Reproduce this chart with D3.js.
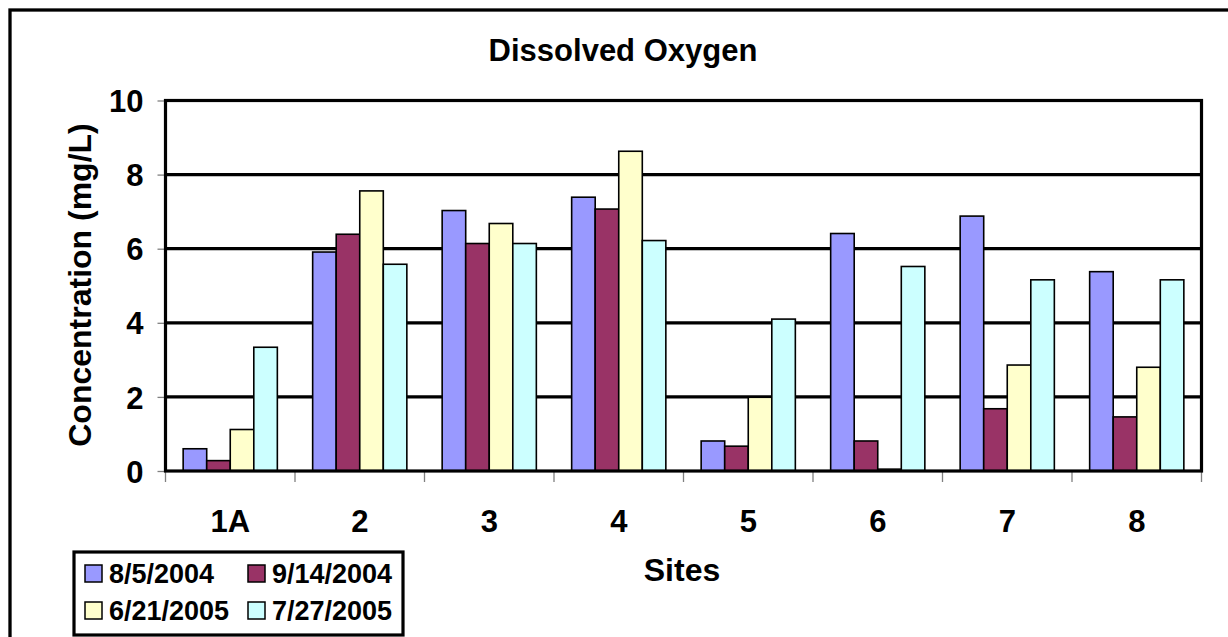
<!DOCTYPE html>
<html>
<head>
<meta charset="utf-8">
<script src="https://cdn.jsdelivr.net/npm/d3@7"></script>
<style>
  body { margin: 0; background: #fff; }
  svg text { font-family: "Liberation Sans", Arial, sans-serif; font-weight: bold; fill: #000; }
</style>
</head>
<body>
<svg class="chart" width="1228" height="637"></svg>
<script>
// Data (mg/L)
var sites = ["1A", "2", "3", "4", "5", "6", "7", "8"];
var dates = ["8/5/2004", "9/14/2004", "6/21/2005", "7/27/2005"];
var doAug2004 = [0.60, 5.91, 7.03, 7.39, 0.81, 6.41, 6.88, 5.38];
var doSep2004 = [0.28, 6.39, 6.14, 7.07, 0.67, 0.81, 1.68, 1.46];
var doJun2005 = [1.12, 7.56, 6.68, 8.63, 1.99, 0.05, 2.86, 2.80];
var doJul2005 = [3.34, 5.58, 6.14, 6.22, 4.10, 5.52, 5.16, 5.16];
var yTicks = [0, 2, 4, 6, 8, 10];

var series = [doAug2004, doSep2004, doJun2005, doJul2005];
var colors = ["#9999ff", "#993366", "#ffffcc", "#ccffff"];

// Plot area
var plot = {left: 165.5, top: 100.5, right: 1201.5, bottom: 471};

var chart = d3.select(".chart");

// outer chart border (runs off the page right and bottom)
chart.append("rect")
	.attr("x", 10).attr("y", 10)
	.attr("width", 1240).attr("height", 660)
	.style("fill", "none")
	.style("stroke", "#000")
	.style("stroke-width", 3.3);

var x0 = d3.scaleBand()
	.domain(sites)
	.range([plot.left, plot.right]);

var bw = x0.bandwidth();
// Excel gap width 150%: 4 bars + 1.5 bar widths of gap per category
var x1 = d3.scaleBand()
	.domain(d3.range(dates.length))
	.range([bw * 0.75 / 5.5, bw * 4.75 / 5.5]);

var y = d3.scaleLinear()
	.domain([0, 10])
	.range([plot.bottom, plot.top]);

// gridlines
chart.append("g")
	.selectAll("line")
	.data(yTicks.slice(1, -1))
	.enter().append("line")
	.attr("x1", plot.left).attr("x2", plot.right)
	.attr("y1", function(d) { return y(d); })
	.attr("y2", function(d) { return y(d); })
	.style("stroke", "#000")
	.style("stroke-width", 3.2);

// bars
var groups = chart.append("g")
	.selectAll("g")
	.data(sites)
	.enter().append("g")
	.attr("transform", function(d) { return "translate(" + x0(d) + ",0)"; });

groups.selectAll("rect")
	.data(function(d, i) { return series.map(function(s, j) { return {k: j, v: s[i]}; }); })
	.enter().append("rect")
	.attr("x", function(d) { return x1(d.k); })
	.attr("width", x1.bandwidth())
	.attr("y", function(d) { return y(d.v); })
	.attr("height", function(d) { return y(0) - y(d.v); })
	.style("fill", function(d) { return colors[d.k]; })
	.style("stroke", "#000")
	.style("stroke-width", 1.6);

// y axis ticks and labels
var yAxis = d3.axisLeft(y)
	.tickValues(yTicks)
	.tickSize(8)
	.tickPadding(14);

var gy = chart.append("g")
	.attr("transform", "translate(" + plot.left + ",0)")
	.call(yAxis);
gy.select(".domain").remove();
gy.selectAll(".tick line").style("stroke", "#808080").style("stroke-width", 1.3);
gy.selectAll(".tick text").style("font-size", "31px").attr("dy", "0.36em");

// x axis: ticks between categories
var gx = chart.append("g");
gx.selectAll("line")
	.data(sites.concat(["end"]))
	.enter().append("line")
	.attr("x1", function(d, i) { return i < sites.length ? x0(d) : plot.right; })
	.attr("x2", function(d, i) { return i < sites.length ? x0(d) : plot.right; })
	.attr("y1", plot.bottom)
	.attr("y2", plot.bottom + 11)
	.style("stroke", "#808080")
	.style("stroke-width", 1.3);

gx.selectAll("text")
	.data(sites)
	.enter().append("text")
	.attr("x", function(d) { return x0(d) + bw / 2; })
	.attr("y", 532)
	.style("text-anchor", "middle")
	.style("font-size", "31px")
	.text(function(d) { return d; });

// plot frame
chart.append("rect")
	.attr("x", plot.left).attr("y", plot.top)
	.attr("width", plot.right - plot.left)
	.attr("height", plot.bottom - plot.top)
	.style("fill", "none")
	.style("stroke", "#000")
	.style("stroke-width", 3.2);

// titles
chart.append("text")
	.attr("x", 623).attr("y", 61)
	.style("text-anchor", "middle")
	.style("font-size", "31px")
	.text("Dissolved Oxygen");

chart.append("text")
	.attr("x", 682).attr("y", 581)
	.style("text-anchor", "middle")
	.style("font-size", "32px")
	.text("Sites");

chart.append("text")
	.attr("transform", "translate(91,285) rotate(-90)")
	.style("text-anchor", "middle")
	.style("font-size", "32px")
	.text("Concentration (mg/L)");

// legend
var legend = chart.append("g");
legend.append("rect")
	.attr("x", 74).attr("y", 552)
	.attr("width", 329).attr("height", 83)
	.style("fill", "#fff")
	.style("stroke", "#000")
	.style("stroke-width", 3.2);

var items = legend.selectAll("g.item")
	.data(dates)
	.enter().append("g")
	.attr("class", "item")
	.attr("transform", function(d, i) {
		return "translate(" + (i % 2 == 0 ? 85 : 248) + "," + (i < 2 ? 565 : 602) + ")";
	});

items.append("rect")
	.attr("width", 17).attr("height", 17)
	.style("fill", function(d, i) { return colors[i]; })
	.style("stroke", "#000")
	.style("stroke-width", 1.5);

items.append("text")
	.attr("x", 24).attr("y", 18)
	.style("font-size", "27px")
	.text(function(d) { return d; });
</script>
</body>
</html>
